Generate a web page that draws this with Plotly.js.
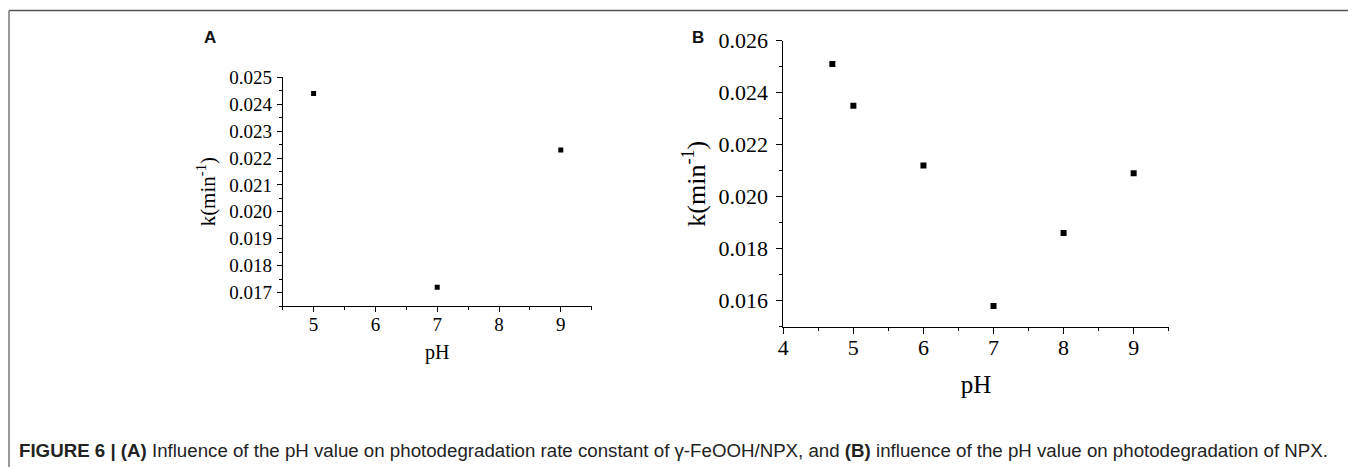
<!DOCTYPE html>
<html>
<head>
<meta charset="utf-8">
<script src="https://cdn.plot.ly/plotly-3.0.1.min.js"></script>
<style>
html,body{margin:0;padding:0;background:#fff;}
#chart{width:1348px;height:467px;}
</style>
</head>
<body>
<div id="chart"></div>
<script>
// Panel A data
const phA = [5, 7, 9];
const kA = [0.0244, 0.0172, 0.0223];
// Panel B data
const phB = [4.7, 5, 6, 7, 8, 9];
const kB = [0.0251, 0.0235, 0.0212, 0.0158, 0.0186, 0.0209];

const W = 1348, H = 467;
const px = x => x / W;
const py = y => 1 - y / H;

const serif = "Liberation Serif, Times New Roman, serif";
const sans = "Liberation Sans, Arial, sans-serif";

const traces = [
  {x: phA, y: kA, type: 'scatter', mode: 'markers', xaxis: 'x', yaxis: 'y',
   marker: {symbol: 'square', size: 5, color: '#000'}, hoverinfo: 'x+y'},
  {x: phB, y: kB, type: 'scatter', mode: 'markers', xaxis: 'x2', yaxis: 'y2',
   marker: {symbol: 'square', size: 6, color: '#000'}, hoverinfo: 'x+y'}
];

function axisBase(fs) {
  return {
    showgrid: false, zeroline: false, showline: true, linecolor: '#000', linewidth: 1,
    ticks: 'outside', tickcolor: '#000', tickwidth: 1, mirror: false,
    tickfont: {family: serif, size: fs, color: '#000'}
  };
}

const layout = {
  width: W, height: H,
  margin: {l: 0, r: 0, t: 0, b: 0},
  paper_bgcolor: '#fff', plot_bgcolor: '#fff',
  showlegend: false,
  xaxis: Object.assign(axisBase(19), {
    domain: [px(282.7), px(591.7)], range: [4.5, 9.5], anchor: 'y',
    tick0: 5, dtick: 1, ticklen: 5, ticklabelstandoff: -4,
    minor: {dtick: 0.5, tick0: 4.5, ticks: 'outside', ticklen: 3, tickcolor: '#000'},
    title: {text: 'pH', font: {family: serif, size: 20, color: '#000'}, standoff: 11}
  }),
  yaxis: Object.assign(axisBase(19), {
    domain: [py(306), py(77.3)], range: [0.0165, 0.025], anchor: 'x',
    tick0: 0.017, dtick: 0.001, tickformat: '.3f', ticklen: 5, ticklabelstandoff: 1,
    minor: {dtick: 0.0005, tick0: 0.0165, ticks: 'outside', ticklen: 3, tickcolor: '#000'},
    title: {text: 'k(min<sup>-1</sup>)', font: {family: serif, size: 21, color: '#000'}, standoff: 7}
  }),
  xaxis2: Object.assign(axisBase(22), {
    domain: [px(783.3), px(1168.7)], range: [4, 9.5], anchor: 'y2',
    tick0: 4, dtick: 1, ticklen: 6, ticklabelstandoff: -5,
    minor: {dtick: 0.5, tick0: 4, ticks: 'outside', ticklen: 3, tickcolor: '#000'},
    title: {text: 'pH', font: {family: serif, size: 25, color: '#000'}, standoff: 16}
  }),
  yaxis2: Object.assign(axisBase(22), {
    domain: [py(326.7), py(40.7)], range: [0.015, 0.026], anchor: 'x2',
    tick0: 0.016, dtick: 0.002, tickformat: '.3f', ticklen: 6, ticklabelstandoff: 4,
    minor: {dtick: 0.001, tick0: 0.015, ticks: 'outside', ticklen: 3, tickcolor: '#000'},
    title: {text: 'k(min<sup>-1</sup>)', font: {family: serif, size: 26, color: '#000'}, standoff: 5}
  }),
  shapes: [
    {type: 'line', xref: 'paper', yref: 'paper', x0: px(9), x1: 1, y0: py(10.5), y1: py(10.5),
     line: {color: '#555', width: 1.5}},
    {type: 'line', xref: 'paper', yref: 'paper', x0: px(9), x1: px(9), y0: py(10.5), y1: 0,
     line: {color: '#777', width: 1.5}}
  ],
  annotations: [
    {text: '<b>A</b>', xref: 'paper', yref: 'paper', x: px(210), y: py(38), xanchor: 'center', yanchor: 'middle',
     showarrow: false, font: {family: sans, size: 17, color: '#111'}},
    {text: '<b>B</b>', xref: 'paper', yref: 'paper', x: px(698), y: py(37.5), xanchor: 'center', yanchor: 'middle',
     showarrow: false, font: {family: sans, size: 17, color: '#111'}},
    {text: '<b>FIGURE 6 | (A)</b> Influence of the pH value on photodegradation rate constant of γ-FeOOH/NPX, and <b>(B)</b> influence of the pH value on photodegradation of NPX.',
     xref: 'paper', yref: 'paper', x: px(17), y: py(450), xanchor: 'left', yanchor: 'middle',
     showarrow: false, font: {family: sans, size: 18.7, color: '#222'}}
  ]
};

Plotly.newPlot('chart', traces, layout, {displayModeBar: false, staticPlot: true});
</script>
</body>
</html>
